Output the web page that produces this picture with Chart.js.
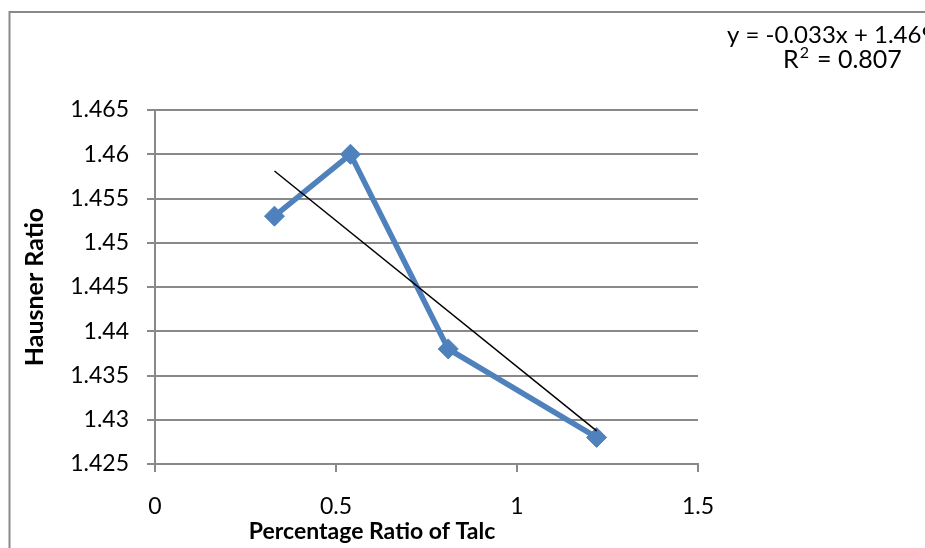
<!DOCTYPE html>
<html><head><meta charset="utf-8">
<script src="https://cdn.jsdelivr.net/npm/chart.js@4.4.1/dist/chart.umd.min.js"></script>
<style>html,body{margin:0;padding:0;background:#fff;}#wrap{width:925px;height:548px;position:relative;}</style>
</head><body><div id="wrap"><canvas id="c" width="925" height="548"></canvas></div>
<script>
const talcRatio = [0.33, 0.54, 0.81, 1.22];
const hausnerRatio = [1.453, 1.46, 1.438, 1.428];
const xTickValues = [0, 0.5, 1, 1.5];
const yTickValues = [1.425, 1.43, 1.435, 1.44, 1.445, 1.45, 1.455, 1.46, 1.465];
const trendSlope = -0.033;
const trendIntercept = 1.469;
const equationText = 'y = -0.033x + 1.469';
const rSquaredText = 'R² = 0.807';
const xTitle = 'Percentage Ratio of Talc';
const yTitle = 'Hausner Ratio';

const FONT = 'Lato';
const GRAY = '#898989';

const points = talcRatio.map((x, i) => ({x: x, y: hausnerRatio[i]}));
const x0 = talcRatio[0], x1 = talcRatio[talcRatio.length - 1];
const trendPoints = [x0, x1].map(x => ({x: x, y: trendSlope * x + trendIntercept}));

const decor = {
  id: 'decor',
  beforeDraw(chart) {
    const ctx = chart.ctx;
    ctx.save();
    ctx.fillStyle = '#fff';
    ctx.fillRect(0, 0, chart.width, chart.height);
    ctx.strokeStyle = GRAY;
    ctx.lineWidth = 2;
    ctx.strokeRect(9.5, 12, 1000, 1000);
    ctx.restore();
  },
  afterDraw(chart) {
    const ctx = chart.ctx;
    ctx.save();
    ctx.fillStyle = '#000';
    ctx.font = '24px ' + FONT;
    ctx.textBaseline = 'middle';
    ctx.textAlign = 'left';
    ctx.fillText(equationText, 727, 35);
    ctx.font = '25px ' + FONT;
    ctx.fillText('R', 783, 60);
    const rw = ctx.measureText('R').width;
    ctx.font = '16px ' + FONT;
    ctx.fillText('2', 783 + rw + 1, 53);
    ctx.font = '25px ' + FONT;
    ctx.fillText(rSquaredText.slice(2), 783 + rw + 12, 60);
    ctx.font = 'bold 23px ' + FONT;
    ctx.textAlign = 'center';
    ctx.fillText(xTitle, 372, 532);
    ctx.restore();
  }
};

new Chart(document.getElementById('c'), {
  type: 'scatter',
  data: {
    datasets: [
      {
        label: 'Trend',
        data: trendPoints,
        showLine: true,
        borderColor: '#000',
        borderWidth: 1.5,
        pointRadius: 0,
        order: 0
      },
      {
        label: 'Hausner Ratio',
        data: points,
        showLine: true,
        borderColor: '#4F81BD',
        backgroundColor: '#4F81BD',
        borderWidth: 5.5,
        pointStyle: 'rectRot',
        pointRadius: 10,
        pointBorderWidth: 1,
        tension: 0,
        order: 1
      }
    ]
  },
  options: {
    responsive: false,
    animation: false,
    devicePixelRatio: 1,
    layout: {padding: {left: 0, top: 110, right: 227, bottom: 0}},
    plugins: {legend: {display: false}, tooltip: {enabled: false}},
    scales: {
      x: {
        type: 'linear',
        min: 0, max: 1.5,
        afterBuildTicks: s => { s.ticks = xTickValues.map(v => ({value: v})); },
        afterFit: s => { s.height = 84; },
        ticks: {
          color: '#000',
          font: {family: FONT, size: 23},
          padding: 21,
          callback: v => String(v)
        },
        grid: {display: true, drawOnChartArea: false, drawTicks: true, tickLength: 8, color: GRAY, lineWidth: 2},
        border: {display: true, color: GRAY, width: 2}
      },
      y: {
        type: 'linear',
        min: 1.425, max: 1.465,
        afterBuildTicks: s => { s.ticks = yTickValues.map(v => ({value: v})); },
        afterFit: s => { s.width = 155; },
        ticks: {
          color: '#000',
          font: {family: FONT, size: 23},
          padding: 18,
          callback: v => String(+Number(v).toFixed(3))
        },
        grid: {display: true, drawTicks: true, tickLength: 8, color: GRAY, lineWidth: 2},
        border: {display: true, color: GRAY, width: 2},
        title: {
          display: true,
          text: yTitle,
          color: '#000',
          font: {family: FONT, size: 25, weight: 'bold'},
          padding: {top: 20, bottom: 0}
        }
      }
    }
  },
  plugins: [decor]
});
</script>
</body></html>
